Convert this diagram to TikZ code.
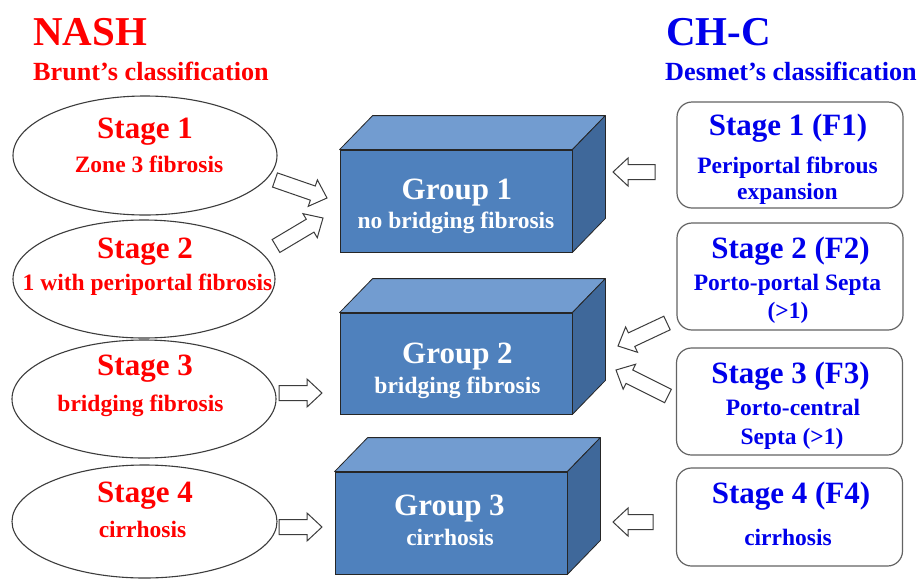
\documentclass[tikz,border=0pt]{standalone}
\usepackage{fontspec}
\setmainfont{Liberation Serif}
\usetikzlibrary{calc,shapes.geometric}
\definecolor{nashred}{RGB}{255,0,0}
\definecolor{chcblue}{RGB}{0,0,235}
\definecolor{frontc}{RGB}{79,129,189}
\definecolor{topc}{RGB}{114,156,208}
\definecolor{sidec}{RGB}{63,104,154}
\definecolor{linec}{RGB}{60,60,60}
\newcommand\blockarrow[2]{%
  \coordinate (ba-hb) at ($(#2)!15pt!(#1)$);
  \draw[barrow] ($(#1)!7.5pt!-90:(#2)$) -- ($(ba-hb)!7.5pt!-90:(#2)$) -- ($(ba-hb)!14pt!-90:(#2)$) -- (#2)
    -- ($(ba-hb)!14pt!90:(#2)$) -- ($(ba-hb)!7.5pt!90:(#2)$) -- ($(#1)!7.5pt!90:(#2)$) -- cycle;
}
\newcommand\boxsides[1]{%
  \draw[boxedge, fill=topc] (#1.north west) -- ++(33,-34) -- ($(#1.north east)+(33,-34)$) -- (#1.north east) -- cycle;
  \draw[boxedge, fill=sidec] (#1.north east) -- ++(33,-34) -- ($(#1.south east)+(33,-34)$) -- (#1.south east) -- cycle;
}
\tikzset{
  titletxt/.style={font=\fontsize{41}{41}\selectfont\bfseries, anchor=base west, inner sep=0},
  subtitletxt/.style={font=\fontsize{26.2}{27}\selectfont\bfseries, anchor=base west, inner sep=0},
  bigtxt/.style={font=\fontsize{31}{31}\selectfont\bfseries, anchor=base, inner sep=0},
  smalltxt/.style={font=\fontsize{23.5}{24}\selectfont\bfseries, anchor=base, inner sep=0},
  stageell/.style={ellipse, draw=linec, line width=1.1pt, fill=white, inner sep=0},
  stagebox/.style={rectangle, rounded corners=15pt, draw=linec!80, line width=1.2pt, fill=white, inner sep=0, minimum width=226pt},
  frontbox/.style={rectangle, draw=black!85, line width=0.8pt, fill=frontc, inner sep=0, minimum width=232pt},
  boxedge/.style={draw=black!85, line width=0.8pt, line join=round},
  barrow/.style={draw=linec, line width=1pt, fill=white, line join=miter},
}
\begin{document}
\begin{tikzpicture}[x=1pt, y=-1pt]
\useasboundingbox[fill=white] (0,0) rectangle (918,579);

% titles
\node[titletxt, text=nashred] (nash) at (33,45) {NASH};
\node[subtitletxt, text=nashred] (brunt) at (33,80) {Brunt’s classification};
\node[titletxt, text=chcblue] (chc) at (666,45) {CH-C};
\node[subtitletxt, text=chcblue] (desmet) at (665,80) {Desmet’s classification};

% left ellipses
\node[stageell, minimum width=264pt, minimum height=119pt] (e1) at (145,155.5) {};
\node[stageell, minimum width=262pt, minimum height=118pt] (e2) at (144,279) {};
\node[stageell, minimum width=264pt, minimum height=118pt] (e3) at (144,399) {};
\node[stageell, minimum width=265pt, minimum height=113pt] (e4) at (144.5,521.5) {};

\node[bigtxt, text=nashred] (e1a) at (145,138) {Stage 1};
\node[smalltxt, text=nashred] (e1b) at (149,172) {Zone 3 fibrosis};
\node[bigtxt, text=nashred] (e2a) at (145,258) {Stage 2};
\node[smalltxt, text=nashred] (e2b) at (147.5,290) {1 with periportal fibrosis};
\node[bigtxt, text=nashred] (e3a) at (145,375) {Stage 3};
\node[smalltxt, text=nashred] (e3b) at (140.5,411) {bridging fibrosis};
\node[bigtxt, text=nashred] (e4a) at (145,502) {Stage 4};
\node[smalltxt, text=nashred] (e4b) at (142.5,537) {cirrhosis};

% right rounded boxes
\node[stagebox, minimum height=106pt] (r1) at (790,155) {};
\node[stagebox, minimum height=107pt] (r2) at (790,276.5) {};
\node[stagebox, minimum height=107pt] (r3) at (789.5,401.5) {};
\node[stagebox, minimum height=98pt] (r4) at (789.5,517) {};

\node[bigtxt, text=chcblue] (r1a) at (788,135) {Stage 1 (F1)};
\node[smalltxt, text=chcblue] (r1b) at (787.5,173) {Periportal fibrous};
\node[smalltxt, text=chcblue] (r1c) at (787.5,199) {expansion};
\node[bigtxt, text=chcblue] (r2a) at (790.5,258) {Stage 2 (F2)};
\node[smalltxt, text=chcblue] (r2b) at (787.5,290) {Porto-portal Septa};
\node[smalltxt, text=chcblue] (r2c) at (788,318) {(>1)};
\node[bigtxt, text=chcblue] (r3a) at (790.5,383) {Stage 3 (F3)};
\node[smalltxt, text=chcblue] (r3b) at (793,415) {Porto-central};
\node[smalltxt, text=chcblue] (r3c) at (792,444) {Septa (>1)};
\node[bigtxt, text=chcblue] (r4a) at (791,503) {Stage 4 (F4)};
\node[smalltxt, text=chcblue] (r4b) at (788,545) {cirrhosis};

% 3D group boxes
\node[frontbox, minimum height=102pt] (g1) at (456,201) {};
\boxsides{g1}
\node[frontbox, minimum height=101pt] (g2) at (456,363.5) {};
\boxsides{g2}
\node[frontbox, minimum height=102pt] (g3) at (451,523) {};
\boxsides{g3}

\node[bigtxt, text=white] (g1a) at (457,199) {Group 1};
\node[smalltxt, text=white] (g1b) at (456,228) {no bridging fibrosis};
\node[bigtxt, text=white] (g2a) at (457.5,363) {Group 2};
\node[smalltxt, text=white] (g2b) at (457.5,393) {bridging fibrosis};
\node[bigtxt, text=white] (g3a) at (449.5,515) {Group 3};
\node[smalltxt, text=white] (g3b) at (450,545) {cirrhosis};

% block arrows
\coordinate (a1s) at (275,180); \coordinate (a1e) at (327,198);
\coordinate (a2s) at (276,246); \coordinate (a2e) at (323,218);
\coordinate (a3s) at (279,393); \coordinate (a3e) at (322,393);
\coordinate (a4s) at (279,527); \coordinate (a4e) at (322,527);
\coordinate (b1s) at (655,172); \coordinate (b1e) at (613,172);
\coordinate (b2s) at (667,323); \coordinate (b2e) at (618,346);
\coordinate (b3s) at (668,396); \coordinate (b3e) at (616,370);
\coordinate (b4s) at (653,522); \coordinate (b4e) at (613,522);
\blockarrow{a1s}{a1e}
\blockarrow{a2s}{a2e}
\blockarrow{a3s}{a3e}
\blockarrow{a4s}{a4e}
\blockarrow{b1s}{b1e}
\blockarrow{b2s}{b2e}
\blockarrow{b3s}{b3e}
\blockarrow{b4s}{b4e}
\end{tikzpicture}
\end{document}
